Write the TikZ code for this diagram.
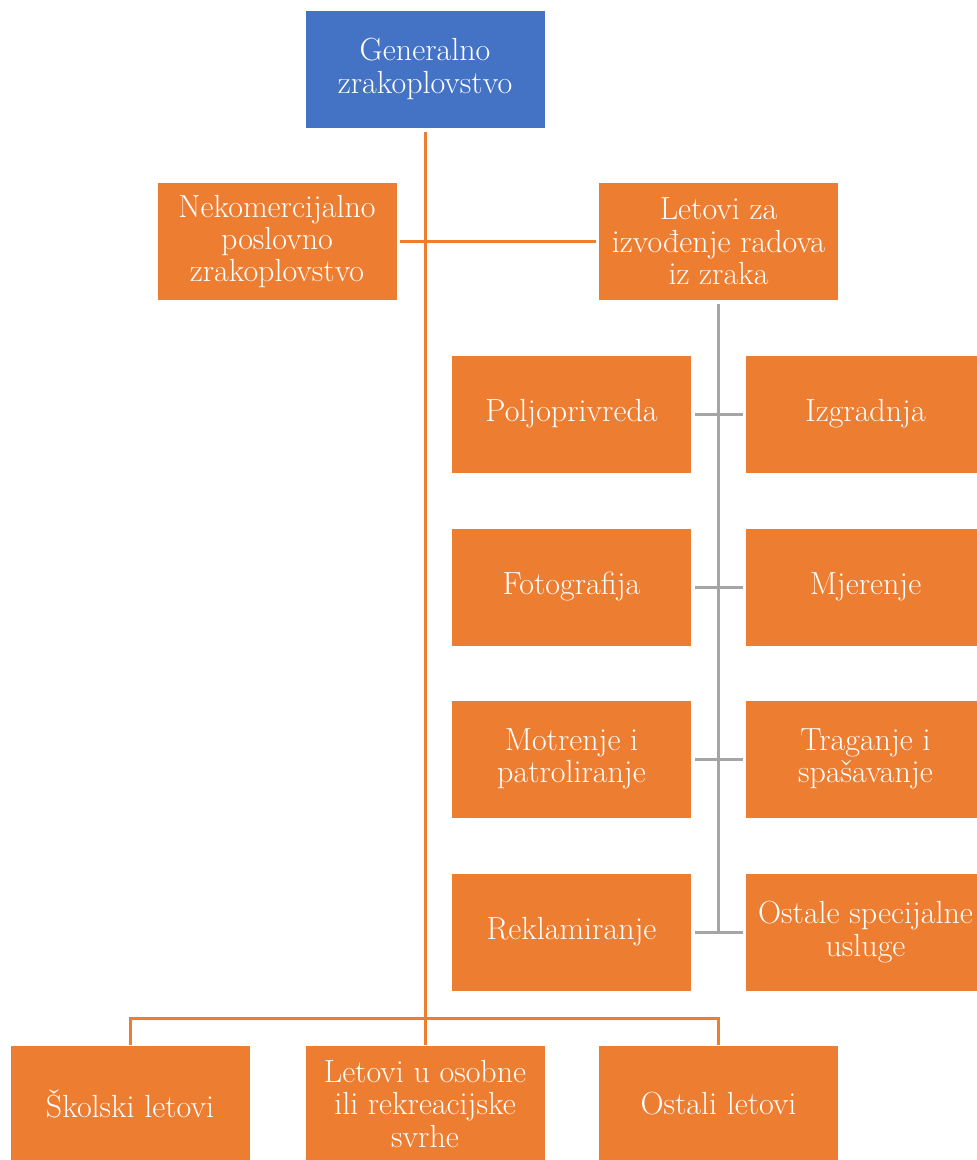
\documentclass[tikz,border=0pt]{standalone}
\definecolor{boxorange}{HTML}{ED7D31}
\definecolor{boxblue}{HTML}{4472C4}
\definecolor{linegray}{HTML}{A5A5A5}
\begin{document}
\begin{tikzpicture}[x=0.5pt, y=-0.5pt,
        every node/.style={draw=white, line width=0.4pt, text=white, align=center, inner sep=0pt, outer sep=0pt,
            minimum width=120pt, minimum height=59pt, font=\fontsize{16}{16.2}\selectfont},
        orangebox/.style={fill=boxorange},
        bluebox/.style={fill=boxblue},
        orangeline/.style={draw=boxorange, line width=1.5pt},
        grayline/.style={draw=linegray, line width=1.5pt}]
                \useasboundingbox (0,0) rectangle (977,1160);
                % Nodes
                \node[bluebox] at (425, 69) (gen) {Generalno\\zrakoplovstvo};
                \node[orangebox] at (277, 241.5) (nekom) {Nekomercijalno\\poslovno\\zrakoplovstvo};
                \node[orangebox] at (718.5, 241.5) (radovi) {Letovi za\\izvođenje radova\\iz zraka};

                \node[orangebox] at (571.5, 414) (polj) {Poljoprivreda};
                \node[orangebox] at (865.5, 414) (izgr) {Izgradnja};
                \node[orangebox] at (571.5, 587) (foto) {Fotografija};
                \node[orangebox] at (865.5, 587) (mjer) {Mjerenje};
                \node[orangebox] at (571.5, 759) (motr) {Motrenje i\\patroliranje};
                \node[orangebox] at (865.5, 759) (trag) {Traganje i\\spašavanje};
                \node[orangebox] at (571.5, 932) (rekl) {Reklamiranje};
                \node[orangebox] at (865.5, 932) (ostale) {Ostale specijalne\\usluge};

                \node[orangebox] at (130, 1104) (skolski) {Školski letovi};
                \node[orangebox] at (425, 1104) (osobne) {Letovi u osobne\\ili rekreacijske\\svrhe};
                \node[orangebox] at (718.5, 1104) (ostali) {Ostali letovi};

                % Edges
                \draw[orangeline, shorten <=2pt] (gen.south) -- (osobne.north);
                \draw[orangeline, shorten <=1.5pt, shorten >=1.5pt] (nekom.east) -- (radovi.west);
                \draw[orangeline] (skolski.north) -- ++(0,-27) -| (ostali.north);

                \draw[grayline, shorten <=2pt] (radovi.south) -- (radovi.south |- rekl.east);
                \draw[grayline, shorten <=1.5pt, shorten >=1.5pt] (polj.east) -- (izgr.west);
                \draw[grayline, shorten <=1.5pt, shorten >=1.5pt] (foto.east) -- (mjer.west);
                \draw[grayline, shorten <=1.5pt, shorten >=1.5pt] (motr.east) -- (trag.west);
                \draw[grayline, shorten <=1.5pt, shorten >=1.5pt] (rekl.east) -- (ostale.west);
            \end{tikzpicture}
\end{document}
